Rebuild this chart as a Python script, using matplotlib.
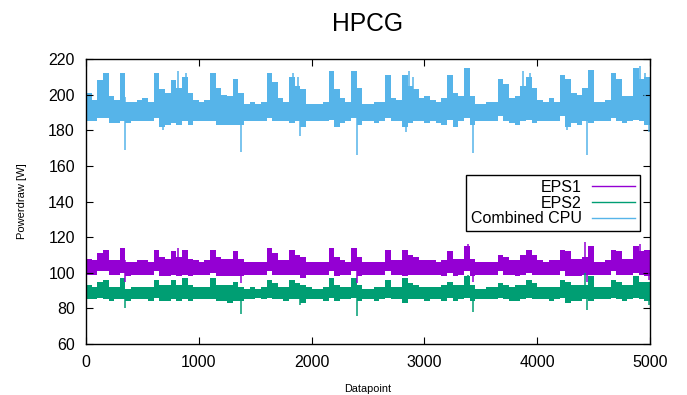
import numpy as np
import matplotlib
matplotlib.use("Agg")
import matplotlib.pyplot as plt
from matplotlib.lines import Line2D

# Each series: per 50-datapoint chunk, the low and high edge of the dense band,
# plus a few single-sample spikes (datapoint, value) that stick out of it
n_points = 5000

cpu_hi = [201, 197, 208, 212, 199, 197, 212, 196, 196, 197,
          198, 196, 212, 203, 201, 208, 204, 210, 201, 197,
          196, 197, 212, 204, 200, 199, 209, 201, 195, 196,
          195, 196, 212, 207, 198, 196, 210, 205, 203, 195,
          195, 195, 196, 213, 203, 198, 196, 213, 204, 195,
          195, 196, 196, 211, 198, 197, 211, 205, 203, 198,
          199, 197, 196, 198, 211, 201, 199, 215, 199, 195,
          195, 196, 196, 209, 206, 198, 199, 205, 210, 204,
          197, 196, 198, 196, 211, 209, 201, 200, 204, 214,
          196, 196, 197, 212, 209, 199, 199, 215, 209, 210]
cpu_lo = [185, 185, 187, 187, 184, 184, 185, 184, 185, 185,
          185, 185, 187, 182, 183, 184, 183, 185, 183, 185,
          185, 185, 185, 183, 183, 183, 183, 183, 185, 185,
          185, 185, 187, 185, 185, 185, 184, 185, 182, 185,
          185, 185, 185, 186, 182, 184, 185, 187, 183, 185,
          185, 184, 185, 187, 185, 185, 182, 184, 185, 185,
          184, 185, 184, 183, 186, 182, 185, 187, 183, 185,
          185, 185, 185, 188, 185, 184, 183, 185, 186, 184,
          185, 185, 185, 185, 188, 182, 184, 183, 185, 184,
          185, 185, 185, 187, 185, 184, 185, 186, 185, 183]
cpu_spike_at = [346, 683, 816, 887, 1371, 1835, 1879, 1897, 2402, 2837,
                2863, 2899, 3428, 3874, 3936, 4264, 4441, 4911, 4955, 4990]
cpu_spike_val = [169, 180, 213, 212, 168, 212, 210, 177, 166, 179,
                 213, 210, 167, 213, 212, 180, 166, 216, 212, 179]

eps1_hi = [108, 107, 111, 113, 107, 107, 114, 106, 106, 107,
           107, 106, 113, 109, 108, 112, 109, 113, 108, 107,
           106, 107, 113, 109, 108, 108, 112, 108, 106, 106,
           106, 106, 114, 111, 107, 107, 113, 110, 109, 106,
           106, 106, 106, 114, 109, 107, 106, 114, 109, 106,
           106, 106, 106, 113, 107, 107, 113, 110, 109, 107,
           107, 107, 106, 107, 112, 108, 108, 115, 108, 106,
           106, 106, 106, 110, 109, 107, 107, 110, 113, 110,
           107, 106, 107, 107, 113, 112, 108, 108, 109, 115,
           106, 106, 107, 113, 112, 108, 108, 115, 112, 113]
eps1_lo = [99, 99, 101, 101, 99, 99, 100, 98, 99, 99,
           99, 99, 101, 98, 98, 99, 98, 99, 98, 99,
           99, 99, 100, 98, 98, 98, 98, 98, 99, 99,
           99, 99, 101, 99, 99, 99, 99, 99, 97, 99,
           99, 99, 99, 101, 98, 99, 99, 101, 98, 99,
           99, 99, 99, 101, 99, 99, 98, 99, 99, 99,
           99, 99, 99, 98, 100, 98, 99, 101, 98, 99,
           99, 99, 99, 101, 99, 99, 98, 99, 100, 99,
           99, 99, 99, 99, 101, 98, 98, 98, 99, 99,
           99, 99, 99, 101, 99, 99, 99, 100, 99, 98]
eps1_spike_at = [346, 816, 1371, 2402, 3390, 3428, 4420, 4441, 4911, 4990]
eps1_spike_val = [95, 114, 94, 94, 116, 95, 117, 95, 116, 96]

eps2_hi = [93, 92, 95, 96, 92, 92, 97, 91, 92, 92,
           92, 92, 96, 93, 93, 96, 93, 97, 93, 92,
           92, 92, 97, 93, 93, 93, 95, 92, 91, 92,
           91, 92, 96, 94, 92, 92, 96, 94, 93, 92,
           91, 91, 92, 97, 93, 92, 92, 97, 93, 91,
           91, 92, 92, 96, 92, 92, 97, 94, 93, 92,
           92, 92, 92, 93, 95, 93, 93, 98, 93, 91,
           91, 92, 92, 94, 93, 92, 93, 93, 96, 94,
           92, 92, 92, 92, 96, 95, 93, 93, 93, 98,
           92, 92, 92, 96, 95, 93, 93, 98, 95, 95]
eps2_lo = [85, 85, 86, 85, 84, 85, 85, 84, 85, 85,
           85, 84, 86, 84, 84, 85, 84, 85, 84, 85,
           85, 85, 85, 84, 84, 83, 84, 84, 85, 85,
           86, 85, 86, 85, 85, 84, 85, 85, 83, 85,
           85, 85, 84, 86, 84, 85, 85, 86, 84, 85,
           85, 84, 85, 86, 85, 85, 83, 85, 85, 85,
           84, 85, 85, 84, 86, 84, 85, 86, 84, 85,
           85, 85, 85, 86, 85, 84, 84, 85, 86, 85,
           85, 85, 84, 85, 86, 83, 84, 84, 85, 84,
           85, 85, 85, 86, 85, 84, 85, 86, 85, 84]
eps2_spike_at = [346, 1371, 1897, 2402, 3390, 3428, 4420, 4441, 4990]
eps2_spike_val = [80, 77, 82, 76, 99, 78, 100, 79, 82]

labels = ["EPS1", "EPS2", "Combined CPU"]
colors = ["#9400d3", "#009e73", "#56b4e9"]
series = [(eps1_lo, eps1_hi, eps1_spike_at, eps1_spike_val),
          (eps2_lo, eps2_hi, eps2_spike_at, eps2_spike_val),
          (cpu_lo, cpu_hi, cpu_spike_at, cpu_spike_val)]

plt.rcParams["font.family"] = ["Liberation Sans", "DejaVu Sans"]

fig = plt.figure(figsize=(6.87, 3.95), dpi=100)
ax = fig.add_axes([0.1252, 0.1291, 0.8210, 0.7215])

edges = np.linspace(0, n_points, 101)
for (lo, hi, sp_at, sp_val), c in zip(series, colors):
    ax.fill_between(edges, np.append(lo, lo[-1]), np.append(hi, hi[-1]),
                    step="post", color=c, lw=0)
    chunk = np.array(sp_at) // 50
    base = (np.array(lo)[chunk] + np.array(hi)[chunk]) / 2
    ax.vlines(sp_at, base, sp_val, color=c, lw=1.1)

ax.set_xlim(0, 5000)
ax.set_ylim(60, 220)
ax.set_xticks(range(0, 5001, 1000))
ax.set_yticks(range(60, 221, 20))
ax.tick_params(direction="in", length=5, width=0.8, top=True, right=True,
               labelsize=11.5, pad=8)
for s in ax.spines.values():
    s.set_linewidth(1.0)

ax.set_title("HPCG", fontsize=17.7, pad=20)
ax.set_xlabel("Datapoint", fontsize=7.8, labelpad=10)
ax.set_ylabel("Powerdraw [W]", fontsize=8, labelpad=15)

handles = [Line2D([], [], color=c, lw=1.0) for c in colors]
leg = ax.legend(handles, labels, loc="upper right",
                bbox_to_anchor=(0.982, 0.593), borderaxespad=0,
                markerfirst=False, fontsize=11.5, handlelength=2.7,
                handletextpad=0.65, labelspacing=0.05, borderpad=0.3,
                fancybox=False, framealpha=1, edgecolor="black")
leg.get_frame().set_linewidth(1.0)

fig.savefig("out.png", dpi=100)
